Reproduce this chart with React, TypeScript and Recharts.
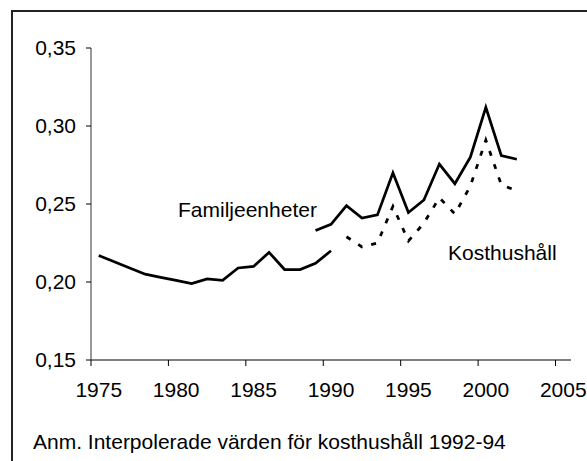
import React from "react";
import { LineChart, Line, XAxis, YAxis } from "recharts";

const years = [
  1975, 1976, 1977, 1978, 1979, 1980, 1981, 1982, 1983, 1984, 1985, 1986, 1987, 1988,
  1989, 1990, 1991, 1992, 1993, 1994, 1995, 1996, 1997, 1998, 1999, 2000, 2001, 2002,
];

// Kosthushåll, solid part 1975-1990
const kosthushallFore = [
  0.217, 0.213, 0.209, 0.205, 0.203, 0.201, 0.199, 0.202, 0.201, 0.209, 0.21, 0.219, 0.208, 0.208,
  0.212, 0.22, null, null, null, null, null, null, null, null, null, null, null, null,
];

// Familjeenheter 1989-2002
const familjeenheter = [
  null, null, null, null, null, null, null, null, null, null, null, null, null, null,
  0.233, 0.237, 0.249, 0.241, 0.243, 0.27, 0.2445, 0.2526, 0.2756, 0.263, 0.28, 0.312, 0.281, 0.2787,
];

// Kosthushåll, dotted part 1991-2002
const kosthushall = [
  null, null, null, null, null, null, null, null, null, null, null, null, null, null,
  null, null, 0.229, 0.2225, 0.225, 0.2485, 0.2263, 0.2378, 0.254, 0.2436, 0.2615, 0.291, 0.2622, 0.2585,
];

const xTicks = [1975, 1980, 1985, 1990, 1995, 2000, 2005];
const yTicks = [0.15, 0.2, 0.25, 0.3, 0.35];

const labelFamilj = "Familjeenheter";
const labelKost = "Kosthushåll";
const note = "Anm. Interpolerade värden för kosthushåll 1992-94";

const data = years.map((y, i) => ({
  year: y,
  kostFore: kosthushallFore[i],
  fam: familjeenheter[i],
  kost: kosthushall[i],
}));

const FONT = "'Liberation Sans', Arial, sans-serif";
const HALF_CAT = 480 / 31 / 2;

const XTick = (props: any) => {
  const { x, y, payload } = props;
  const axisY = y - 22;
  return (
    <g>
      <line x1={x - HALF_CAT} x2={x - HALF_CAT} y1={axisY} y2={axisY + 6} stroke="#000" strokeWidth={1} />
      <text x={x} y={y} dy="0.71em" textAnchor="middle" fill="#000" fontSize={21} fontFamily={FONT}>
        {payload.value}
      </text>
    </g>
  );
};

export default function App() {
  return (
    <div
      style={{
        position: "absolute",
        left: 0,
        top: 0,
        width: 587,
        height: 461,
        overflow: "hidden",
        background: "#fff",
      }}
    >
      <div
        style={{
          position: "absolute",
          left: 11,
          top: 10,
          width: 650,
          height: 600,
          border: "2px solid #222",
        }}
      />
      <div style={{ position: "absolute", left: 0, top: 0 }}>
        <LineChart width={587} height={461} data={data} margin={{ top: 48, right: 16, bottom: 71, left: 0 }}>
          <XAxis
            dataKey="year"
            type="number"
            domain={[1974.5, 2005.5]}
            ticks={xTicks}
            allowDataOverflow
            height={30}
            tickSize={6}
            tickMargin={16}
            tickLine={{ stroke: "none" }}
            axisLine={{ stroke: "#808080", strokeWidth: 2 }}
            tick={<XTick />}
            interval={0}
          />
          <YAxis
            type="number"
            domain={[0.15, 0.35]}
            ticks={yTicks}
            width={91}
            tickSize={5}
            tickMargin={10}
            interval={0}
            tickFormatter={(v: number) => v.toFixed(2).replace(".", ",")}
            axisLine={{ stroke: "#333", strokeWidth: 1 }}
            tickLine={{ stroke: "#000", strokeWidth: 1 }}
            tick={{ fill: "#000", fontSize: 21, fontFamily: FONT }}
          />
          <Line
            dataKey="kostFore"
            type="linear"
            stroke="#000"
            strokeWidth={2.75}
            dot={false}
            connectNulls={false}
            isAnimationActive={false}
          />
          <Line
            dataKey="fam"
            type="linear"
            stroke="#000"
            strokeWidth={2.75}
            dot={false}
            connectNulls={false}
            isAnimationActive={false}
          />
          <Line
            dataKey="kost"
            type="linear"
            stroke="#000"
            strokeWidth={2.75}
            strokeDasharray="5 9"
            dot={false}
            connectNulls={false}
            isAnimationActive={false}
          />
        </LineChart>
      </div>
      <svg
        width={587}
        height={461}
        style={{ position: "absolute", left: 0, top: 0, pointerEvents: "none" }}
      >
        <text x={178} y={217} fontSize={21} fontFamily={FONT} fill="#000">
          {labelFamilj}
        </text>
        <text x={448} y={260} fontSize={21} fontFamily={FONT} fill="#000">
          {labelKost}
        </text>
        <text x={33} y={449} fontSize={21} fontFamily={FONT} fill="#000">
          {note}
        </text>
      </svg>
    </div>
  );
}
